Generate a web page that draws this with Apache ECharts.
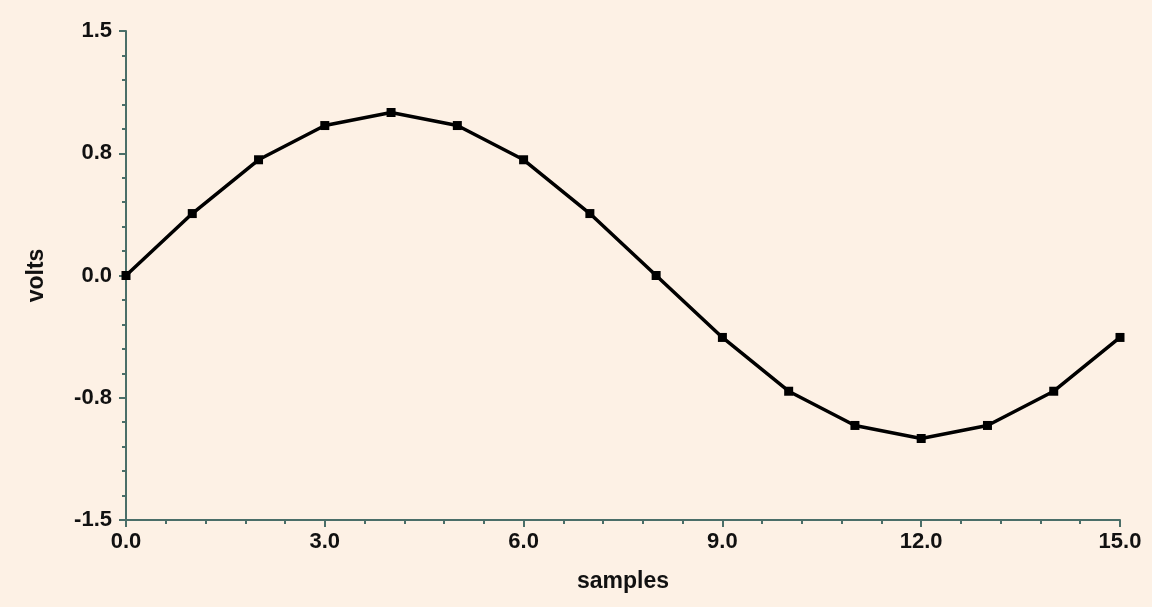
<!DOCTYPE html>
<html><head><meta charset="utf-8">
<script src="https://cdn.jsdelivr.net/npm/echarts@6/dist/echarts.min.js"></script>
<style>html,body{margin:0;padding:0;background:#fdf1e5;}#c{width:1152px;height:607px;}</style>
</head><body><div id="c"></div>
<script>
const samples = [0,1,2,3,4,5,6,7,8,9,10,11,12,13,14,15];
const volts = [0.0,0.38,0.71,0.92,1.0,0.92,0.71,0.38,0.0,-0.38,-0.71,-0.92,-1.0,-0.92,-0.71,-0.38];
const xTitle = 'samples';
const yTitle = 'volts';
const axisColor = '#4a6e68';
const chart = echarts.init(document.getElementById('c'));
const lbl = {color:'#111', fontFamily:'Liberation Sans, Arial', fontWeight:'bold', fontSize:22};
chart.setOption({
  backgroundColor:'#fdf1e5',
  animation:false,
  grid:{left:126,right:32,top:31,bottom:87},
  xAxis:{type:'value',min:0,max:15,interval:3,
    name:xTitle,nameLocation:'middle',nameGap:50,
    nameTextStyle:Object.assign({},lbl,{fontSize:23}),
    axisLine:{onZero:false,lineStyle:{color:axisColor,width:2}},
    axisTick:{show:true,length:7,lineStyle:{color:axisColor,width:2}},
    minorTick:{show:true,splitNumber:5,length:4,lineStyle:{color:axisColor,width:2}},
    splitLine:{show:false},
    axisLabel:Object.assign({},lbl,{margin:11,formatter:v=>v.toFixed(1)})},
  yAxis:{type:'value',min:-1.5,max:1.5,interval:0.75,
    name:yTitle,nameLocation:'middle',nameGap:78,nameRotate:90,
    nameTextStyle:Object.assign({},lbl,{fontSize:23}),
    axisLine:{show:true,onZero:false,lineStyle:{color:axisColor,width:2}},
    axisTick:{show:true,length:7,lineStyle:{color:axisColor,width:2}},
    minorTick:{show:true,splitNumber:5,length:4,lineStyle:{color:axisColor,width:2}},
    splitLine:{show:false},
    axisLabel:Object.assign({},lbl,{margin:14,formatter:v=>v.toFixed(1)})},
  series:[{type:'line',data:samples.map((s,i)=>[s,volts[i]]),
    symbol:'rect',symbolSize:9,showAllSymbol:true,
    lineStyle:{color:'#000',width:3.5},itemStyle:{color:'#000'}}]
});
</script></body></html>
